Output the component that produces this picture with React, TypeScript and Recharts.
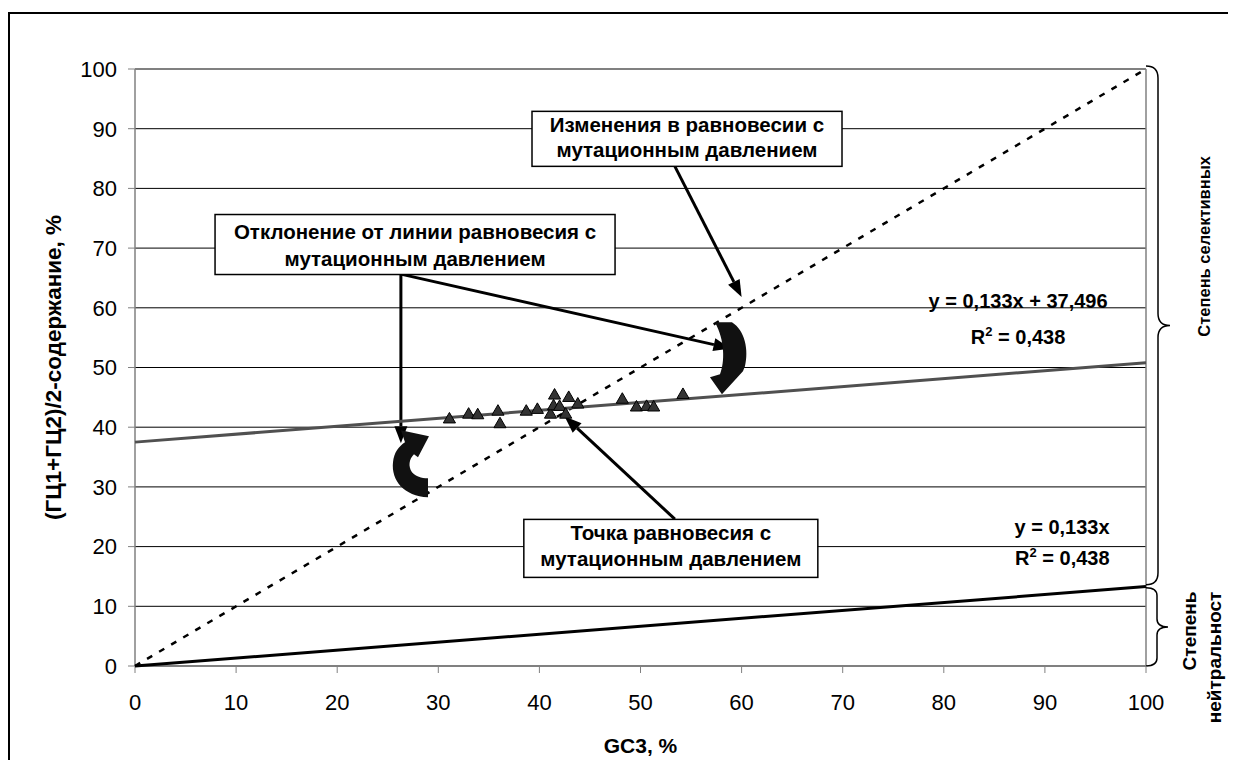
import { ScatterChart, Scatter, XAxis, YAxis, ZAxis, CartesianGrid, ReferenceLine, ReferenceDot, Label } from 'recharts';

const FONT = '"Liberation Sans", Arial, sans-serif';

// GC3 и (ГЦ1+ГЦ2)/2 по генам
const gc3 = [31.1, 33.0, 33.9, 35.9, 36.1, 38.7, 39.8, 41.1, 41.4, 41.5, 42.0, 42.6, 42.9, 43.8, 48.2, 49.6, 50.6, 51.3, 54.2];
const gc12 = [41.3, 42.1, 42.0, 42.6, 40.5, 42.6, 42.9, 42.1, 43.5, 45.3, 43.4, 42.1, 44.9, 43.8, 44.6, 43.3, 43.4, 43.3, 45.4];

// линии тренда и равновесия (концы)
const trendX = [0, 100];
const trendUpperY = [37.5, 50.8];
const trendLowerY = [0, 13.3];
const equilibriumY = [0, 100];

const ticks = [0, 10, 20, 30, 40, 50, 60, 70, 80, 90, 100];

const points = gc3.map((x, i) => ({ x, y: gc12[i] }));
const upperLine = trendX.map((x, i) => ({ x, y: trendUpperY[i] }));
const lowerLine = trendX.map((x, i) => ({ x, y: trendLowerY[i] }));
const diagLine = trendX.map((x, i) => ({ x, y: equilibriumY[i] }));

// стрелки-указатели (в координатах данных)
const arrows = [
  [{ x: 53.4, y: 83.7 }, { x: 60.0, y: 61.8 }],
  [{ x: 26.3, y: 65.6 }, { x: 26.3, y: 37.3 }],
  [{ x: 26.4, y: 65.6 }, { x: 58.9, y: 53.2 }],
  [{ x: 53.4, y: 24.6 }, { x: 42.5, y: 41.8 }],
];

const notes = [
  { x: 54.6, y: 88.3, w: 310, h: 55, lines: ['Изменения в равновесии с', 'мутационным давлением'], offs: [21, 46] },
  { x: 27.7, y: 70.6, w: 400, h: 60, lines: ['Отклонение от линии равновесия с', 'мутационным давлением'], offs: [24, 51] },
  { x: 53.0, y: 19.7, w: 294, h: 58, lines: ['Точка равновесия с', 'мутационным давлением'], offs: [21, 47] },
];

const noShape = () => <g />;

const ArrowShape = (props: any) => {
  const { x1, y1, x2, y2 } = props;
  const a = Math.atan2(y2 - y1, x2 - x1);
  const L = 17, W = 6.5;
  const bx = x2 - L * Math.cos(a), by = y2 - L * Math.sin(a);
  const pts = `${x2},${y2} ${bx - W * Math.sin(a)},${by + W * Math.cos(a)} ${bx + W * Math.sin(a)},${by - W * Math.cos(a)}`;
  return (
    <g>
      <line x1={x1} y1={y1} x2={bx} y2={by} stroke="#000" strokeWidth={3} />
      <polygon points={pts} fill="#000" />
    </g>
  );
};

const braceShape = (w: number, r: number) => (props: any) => {
  const { x1, y1, y2 } = props;
  const x = x1;
  const top = Math.min(y1, y2), bot = Math.max(y1, y2), mid = (top + bot) / 2;
  const h = w / 2;
  const d = `M${x},${top} Q${x + h},${top} ${x + h},${top + r} L${x + h},${mid - r} Q${x + h},${mid} ${x + w},${mid} Q${x + h},${mid} ${x + h},${mid + r} L${x + h},${bot - r} Q${x + h},${bot} ${x},${bot}`;
  return <path d={d} fill="none" stroke="#000" strokeWidth={1.5} />;
};

const CurveUp = (props: any) => {
  const { cx, cy } = props;
  return (
    <path
      transform={`translate(${cx},${cy})`}
      d="M-13,-35 L4,-35 C17,-27 21,-7 17,9 L15,14 L-6,37 L-18,20 L-8,17 C-3,5 -3,-17 -13,-35 Z"
      fill="#111"
    />
  );
};

const CurveDown = (props: any) => {
  const { cx, cy } = props;
  return (
    <path
      transform={`translate(${cx},${cy})`}
      d="M18,14 L18,33 C-6,32 -19,16 -17,-2 C-16,-12 -11,-18 -5,-22 L-9,-34 L19,-28 L8,-7 L4,-10 C-1,-5 -2,2 2,8 C6,12 11,14 18,14 Z"
      fill="#111"
    />
  );
};

const noteShape = (n: typeof notes[number]) => (props: any) => {
  const { cx, cy } = props;
  const top = cy - n.h / 2;
  return (
    <g>
      <rect x={cx - n.w / 2} y={top} width={n.w} height={n.h} fill="#fff" stroke="#000" strokeWidth={1.5} />
      {n.lines.map((t, i) => (
        <text key={i} x={cx} y={top + n.offs[i]} textAnchor="middle" fontFamily={FONT} fontWeight="bold" fontSize={20.5} fill="#000">
          {t}
        </text>
      ))}
    </g>
  );
};

const eqText = (text: string, anchor: 'middle' | 'end') => (props: any) => (
  <text x={props.cx} y={props.cy + 7} textAnchor={anchor} fontFamily={FONT} fontWeight="bold" fontSize={20} fill="#000">
    {text}
  </text>
);

const r2Text = (anchor: 'middle' | 'end') => (props: any) => (
  <text x={props.cx} y={props.cy + 7} textAnchor={anchor} fontFamily={FONT} fontWeight="bold" fontSize={20} fill="#000">
    <tspan>R</tspan>
    <tspan dy={-8} fontSize={13}>2</tspan>
    <tspan dy={8}> = 0,438</tspan>
  </text>
);

const sideText = (lines: { text: string; dx: number; dy: number; size: number }[]) => (props: any) => (
  <g>
    {lines.map((l, i) => {
      const x = props.cx + l.dx, y = props.cy + l.dy;
      return (
        <text key={i} x={x} y={y} transform={`rotate(-90 ${x} ${y})`} textAnchor="end" dominantBaseline="central" fontFamily={FONT} fontWeight="bold" fontSize={l.size} fill="#000">
          {l.text}
        </text>
      );
    })}
  </g>
);

const YTitle = (props: any) => {
  const { viewBox } = props;
  const cx = viewBox.x + 25;
  const cy = viewBox.y + viewBox.height / 2;
  return (
    <text x={cx} y={cy} transform={`rotate(-90 ${cx} ${cy})`} textAnchor="middle" dominantBaseline="central" fontFamily={FONT} fontWeight="bold" fontSize={22.5} fill="#000">
      (ГЦ1+ГЦ2)/2-содержание, %
    </text>
  );
};

export default function App() {
  return (
    <div style={{ position: 'relative', width: 1228, height: 752, overflow: 'hidden', background: '#fff' }}>
      <div style={{ position: 'absolute', left: 0, top: 4, width: 1400, height: 900, border: '2px solid #000', boxSizing: 'border-box' }} />
      <div style={{ position: 'absolute', left: 0, top: 0 }}>
        <ScatterChart width={1228} height={760} margin={{ top: 61, right: 90, bottom: 72, left: 20 }}>
          <CartesianGrid horizontal vertical={false} stroke="#000" strokeWidth={1} />
          <XAxis
            type="number"
            dataKey="x"
            domain={[0, 100]}
            ticks={ticks}
            height={30}
            tickSize={7}
            tickMargin={21}
            axisLine={{ stroke: '#808080', strokeWidth: 1.5 }}
            tickLine={{ stroke: '#808080' }}
            tick={{ fontSize: 22, fill: '#000', fontFamily: FONT }}
            label={{ value: 'GC3, %', position: 'bottom', offset: 42, fontSize: 21, fontWeight: 'bold', fill: '#000', fontFamily: FONT }}
          />
          <YAxis
            type="number"
            dataKey="y"
            domain={[0, 100]}
            ticks={ticks}
            width={107}
            tickSize={7}
            tickMargin={11}
            axisLine={{ stroke: '#808080', strokeWidth: 1.5 }}
            tickLine={{ stroke: '#808080' }}
            tick={{ fontSize: 22, fill: '#000', fontFamily: FONT }}
          >
            <Label content={YTitle} />
          </YAxis>
          <ZAxis type="number" range={[100, 100]} />
          <ReferenceLine y={100} stroke="#808080" strokeWidth={1.5} />
          <ReferenceLine x={100} stroke="#808080" strokeWidth={1.5} />
          <Scatter data={diagLine} line={{ stroke: '#000', strokeWidth: 2.5, strokeDasharray: '6 8' }} shape={noShape} isAnimationActive={false} />
          <Scatter data={lowerLine} line={{ stroke: '#000', strokeWidth: 3 }} shape={noShape} isAnimationActive={false} />
          <Scatter data={upperLine} line={{ stroke: '#505050', strokeWidth: 3 }} shape={noShape} isAnimationActive={false} />
          <Scatter data={points} shape="triangle" fill="#333333" stroke="#000" strokeWidth={1} isAnimationActive={false} />
          {arrows.map((seg, i) => (
            <ReferenceLine key={`a${i}`} segment={seg} shape={ArrowShape} ifOverflow="visible" />
          ))}
          <ReferenceDot x={58.65} y={51.7} shape={CurveUp} ifOverflow="visible" />
          <ReferenceDot x={27.2} y={33.8} shape={CurveDown} ifOverflow="visible" />
          {notes.map((n, i) => (
            <ReferenceDot key={`n${i}`} x={n.x} y={n.y} shape={noteShape(n)} ifOverflow="visible" />
          ))}
          <ReferenceDot x={87.35} y={61.2} shape={eqText('y = 0,133x + 37,496', 'middle')} ifOverflow="visible" />
          <ReferenceDot x={87.35} y={55.1} shape={r2Text('middle')} ifOverflow="visible" />
          <ReferenceDot x={96.4} y={23.3} shape={eqText('y = 0,133x', 'end')} ifOverflow="visible" />
          <ReferenceDot x={96.4} y={18.1} shape={r2Text('end')} ifOverflow="visible" />
          <ReferenceLine segment={[{ x: 100, y: 100.5 }, { x: 100, y: 13.6 }]} shape={braceShape(24, 12)} ifOverflow="visible" />
          <ReferenceLine segment={[{ x: 100, y: 13.1 }, { x: 100, y: 0 }]} shape={braceShape(22, 8)} ifOverflow="visible" />
          <ReferenceDot x={100} y={13.3} shape={sideText([{ text: 'Степень', dx: 44, dy: 5, size: 19 }, { text: 'нейтральност', dx: 69, dy: 5, size: 19 }])} ifOverflow="visible" />
          <ReferenceDot x={100} y={100} shape={sideText([{ text: 'Степень селективных', dx: 58, dy: 87, size: 16.5 }])} ifOverflow="visible" />
        </ScatterChart>
      </div>
    </div>
  );
}
